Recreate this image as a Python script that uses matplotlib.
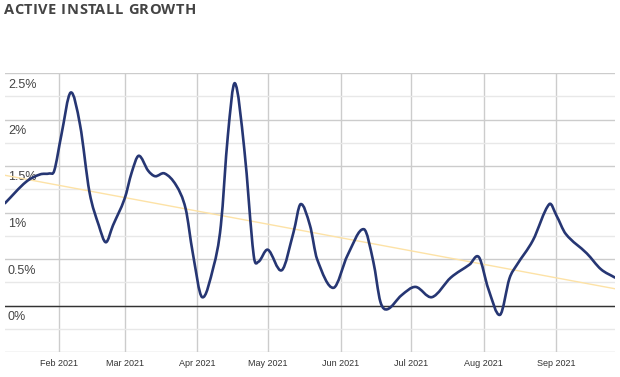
import matplotlib
matplotlib.use("Agg")
import numpy as np
import pandas as pd
import matplotlib.pyplot as plt
import matplotlib.dates as mdates
import matplotlib.transforms as mtransforms
from matplotlib.path import Path
from matplotlib.patches import PathPatch

# values (percent)
dates = ['2021-01-09', '2021-01-18', '2021-01-24', '2021-01-28', '2021-01-30',
         '2021-02-02', '2021-02-06', '2021-02-10', '2021-02-14', '2021-02-18',
         '2021-02-21', '2021-02-24', '2021-03-01', '2021-03-04', '2021-03-07',
         '2021-03-11', '2021-03-14', '2021-03-18', '2021-03-23', '2021-03-27',
         '2021-03-30', '2021-04-03', '2021-04-08', '2021-04-11', '2021-04-14',
         '2021-04-17', '2021-04-21', '2021-04-25', '2021-04-27', '2021-05-01',
         '2021-05-07', '2021-05-12', '2021-05-15', '2021-05-19', '2021-05-22',
         '2021-05-29', '2021-06-04', '2021-06-11', '2021-06-15', '2021-06-18',
         '2021-06-21', '2021-06-27', '2021-07-03', '2021-07-10', '2021-07-18',
         '2021-07-26', '2021-07-30', '2021-08-03', '2021-08-08', '2021-08-12',
         '2021-08-15', '2021-08-22', '2021-08-29', '2021-09-01', '2021-09-05',
         '2021-09-14', '2021-09-20', '2021-09-26']
growth = [1.10, 1.33, 1.41, 1.42, 1.45,
          1.83, 2.29, 1.94, 1.22, 0.86,
          0.68, 0.86, 1.15, 1.43, 1.61,
          1.45, 1.39, 1.42, 1.29, 1.04,
          0.57, 0.09, 0.43, 0.86, 1.83,
          2.39, 1.68, 0.54, 0.47, 0.60,
          0.38, 0.79, 1.09, 0.86, 0.50,
          0.19, 0.54, 0.82, 0.47, 0.04,
          -0.04, 0.11, 0.20, 0.09, 0.30,
          0.44, 0.52, 0.18, -0.10, 0.29,
          0.43, 0.70, 1.09, 0.97, 0.77,
          0.56, 0.39, 0.30]
trend_start, trend_end = 1.40, 0.18

y_labels = [0, 0.5, 1, 1.5, 2, 2.5]
month_ticks = ['2021-02-01', '2021-03-01', '2021-04-01', '2021-05-01',
               '2021-06-01', '2021-07-01', '2021-08-01', '2021-09-01']
month_names = ['Feb 2021', 'Mar 2021', 'Apr 2021', 'May 2021',
               'Jun 2021', 'Jul 2021', 'Aug 2021', 'Sep 2021']
title = 'ACTIVE INSTALL GROWTH'

x = mdates.date2num(pd.to_datetime(dates))
y = np.array(growth)

fig = plt.figure(figsize=(6.2, 3.77), dpi=100)
ax = fig.add_axes([5 / 620, 25 / 377, 610 / 620, 279 / 377])

ax.set_xlim(x[0], x[-1])
ax.set_ylim(-0.5, 2.5)
for s in ax.spines.values():
    s.set_visible(False)

# grid
ax.set_yticks([-0.5, 0, 0.5, 1, 1.5, 2, 2.5])
ax.set_yticks([-0.25, 0.25, 0.75, 1.25, 1.75, 2.25], minor=True)
ax.grid(axis='y', which='major', color='#cccccc', lw=1)
ax.grid(axis='y', which='minor', color='#e8e8e8', lw=1)
ax.set_xticks(mdates.date2num(pd.to_datetime(month_ticks)))
ax.set_xticklabels(month_names, fontsize=6.5, color='#333333', family='Liberation Sans')
ax.grid(axis='x', color='#cccccc', lw=1)
ax.tick_params(axis='both', which='both', length=0)
ax.tick_params(axis='x', pad=5)
ax.tick_params(axis='y', labelleft=False)
ax.set_axisbelow(True)
ax.axhline(0, color='#333333', lw=1, zorder=2)

# y labels inside the plot, below their gridline
off = mtransforms.offset_copy(ax.get_yaxis_transform(), fig=fig, x=3, y=-5.5, units='dots')
for v in y_labels:
    ax.text(0, v, f'{v:g}%', transform=off, ha='left', va='top',
            fontsize=9, color='#444444', family='Liberation Sans')

# trend line
ax.plot([x[0], x[-1]], [trend_start, trend_end], color='#fde2a6', lw=1, zorder=3)

# smoothed series line (cubic Hermite through the read points)
n = len(x)
slope = np.empty(n)
slope[0] = (y[1] - y[0]) / (x[1] - x[0])
slope[-1] = (y[-1] - y[-2]) / (x[-1] - x[-2])
slope[1:-1] = (y[2:] - y[:-2]) / (x[2:] - x[:-2])
verts = [(x[0], y[0])]
codes = [Path.MOVETO]
for i in range(n - 1):
    h = x[i + 1] - x[i]
    verts += [(x[i] + h / 3, y[i] + slope[i] * h / 3),
              (x[i + 1] - h / 3, y[i + 1] - slope[i + 1] * h / 3),
              (x[i + 1], y[i + 1])]
    codes += [Path.CURVE4] * 3
ax.add_patch(PathPatch(Path(verts, codes), fill=False, edgecolor='#263673',
                       lw=1.9, zorder=4, capstyle='round', joinstyle='round'))

# title with a little letter spacing
renderer = fig.canvas.get_renderer()
tkw = dict(fontsize=10.5, fontweight='bold', color='#444444', family='Open Sans')
x0, gap = 3.5, 0.5
for k, ch in enumerate(title):
    if ch == ' ':
        continue
    probe = fig.text(0, 0, title[:k + 1], **tkw)
    w_all = probe.get_window_extent(renderer).width
    probe.set_text(ch)
    w_ch = probe.get_window_extent(renderer).width
    probe.remove()
    fig.text((x0 + w_all - w_ch + k * gap) / 620, 1 - 3 / 377, ch,
             ha='left', va='top', **tkw)

fig.savefig('out.png', dpi=100)
